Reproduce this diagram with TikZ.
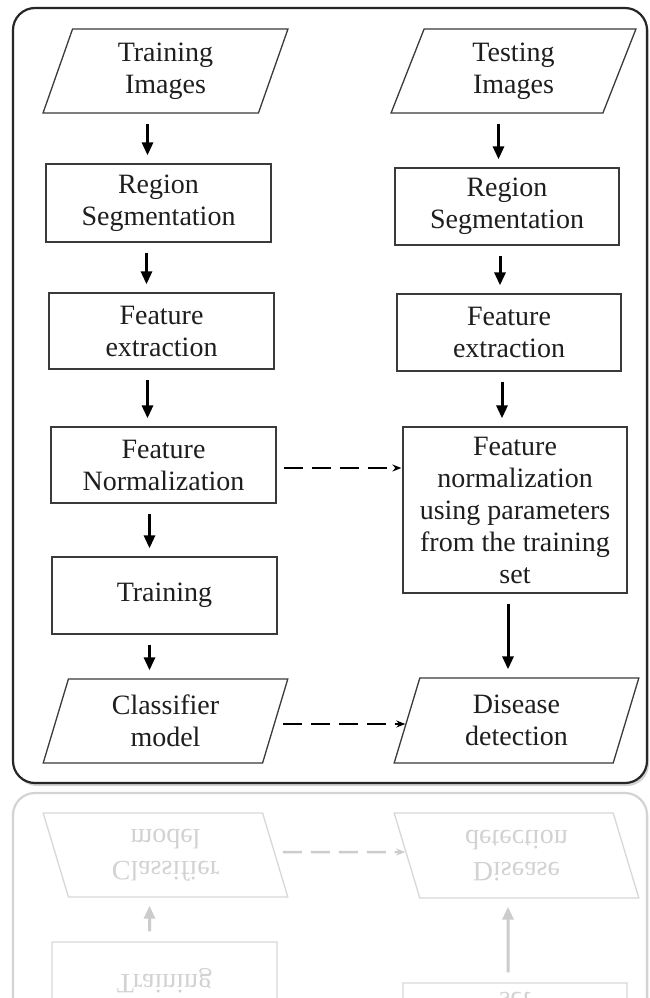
\documentclass[tikz,border=0pt]{standalone}
\usepackage{fontspec}
\setmainfont{Liberation Serif}
\usepackage{tikz}
\usetikzlibrary{arrows.meta, shapes.geometric, shadows}

\definecolor{boxline}{HTML}{3A3A3A}
\definecolor{inkgray}{HTML}{1E1E1E}

\tikzset{
  stagebox/.style={draw=boxline, line width=1.3pt, rectangle, align=center,
    minimum width=225pt, minimum height=77pt, inner sep=0pt, text=inkgray,
    font=\fontsize{28}{32}\selectfont},
  iobox/.style={stagebox, trapezium, trapezium left angle=75,
    trapezium right angle=105, trapezium stretches=true,
    minimum width=245pt, minimum height=84pt},
  flowarrow/.style={line width=3pt, -{Triangle[length=13pt,width=11pt]},
    shorten <=10pt, shorten >=8pt},
  dasharrow/.style={line width=2.5pt, dash pattern=on 19pt off 9pt,
    -{Stealth[length=9pt,width=7pt]}, shorten <=7pt, shorten >=1pt},
  outerframe/.style={draw=black!85, line width=2.2pt, rounded corners=22pt, fill=white,
    drop shadow={shadow xshift=2pt, shadow yshift=-3pt, opacity=0.35}}
}

% whole chart, drawn once and once more as the reflection
\newcommand{\diseaseflow}{%
  \draw[outerframe] (13,8) rectangle (647,783);
  % training side
  \node[iobox] (trimg) at (165.5,71) {Training\\Images};
  \node[stagebox, minimum height=78pt] (lseg) at (158.5,203) {Region\\Segmentation};
  \node[stagebox, minimum height=76pt] (lfeat) at (161.5,331) {Feature\\extraction};
  \node[stagebox, minimum height=76pt] (lnorm) at (163.5,465) {Feature\\Normalization};
  \node[stagebox] (train) at (164.5,595.5) {Training};
  \node[iobox] (clf) at (165.5,721) {Classifier\\model};
  % testing side
  \node[iobox] (teimg) at (513.5,71) {Testing\\Images};
  \node[stagebox, minimum width=224pt] (rseg) at (507,206.5) {Region\\Segmentation};
  \node[stagebox, minimum width=224pt] (rfeat) at (509,332.5) {Feature\\extraction};
  \node[stagebox, minimum width=224pt, minimum height=166pt] (rnorm) at (515,510)
    {Feature\\normalization\\using parameters\\from the training\\set};
  \node[iobox, minimum height=85pt] (disease) at (516.5,720.5) {Disease\\detection};
  % arrows
  \foreach \a/\b/\s in {trimg/lseg/-18, lseg/lfeat/-12, lfeat/lnorm/-14,
      lnorm/train/-14, train/clf/-15, teimg/rseg/-15, rseg/rfeat/-7,
      rfeat/rnorm/-7, rnorm/disease/-7}
    \draw[flowarrow] ([xshift=\s pt]\a.south) -- ([xshift=\s pt]\a.south |- \b.north);
  \draw[dasharrow] ([yshift=-3pt]lnorm.east) -- ([yshift=-3pt]lnorm.east -| rnorm.west);
  \draw[dasharrow] ([yshift=-3pt]clf.east) -- ([yshift=-3pt]clf.east -| disease.west);
}

\begin{document}
\begin{tikzpicture}[x=1pt, y=-1pt]
\useasboundingbox (0,0) rectangle (649,998);
\fill[white] (0,0) rectangle (649,998);
\diseaseflow
% faded reflection
\begin{scope}
  \clip (0,788) rectangle (649,998);
  \begin{scope}[transparency group, opacity=0.2, yshift=-1576pt, yscale=-1,
      transform shape, name prefix=mirror-]
    \diseaseflow
  \end{scope}
\end{scope}
\end{tikzpicture}
\end{document}
